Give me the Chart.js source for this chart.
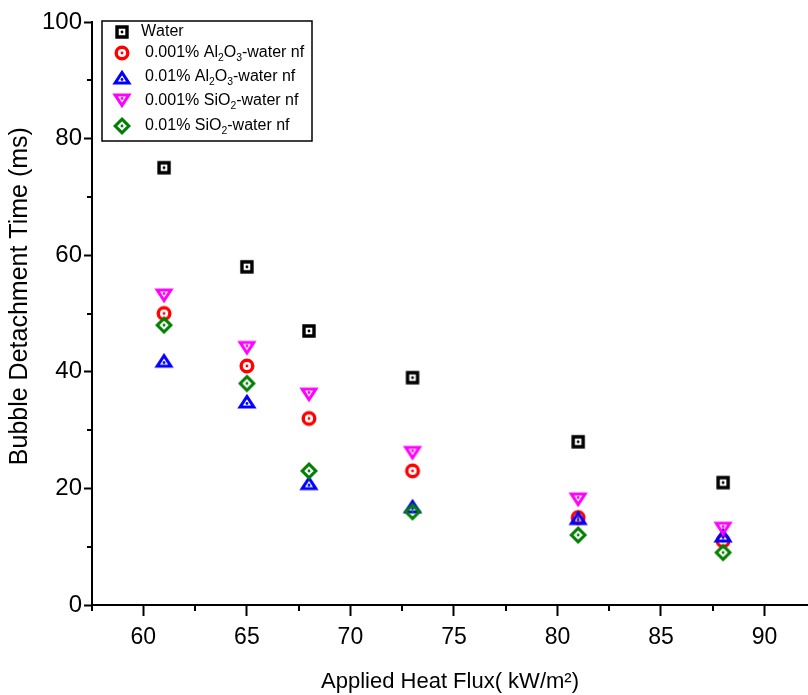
<!DOCTYPE html>
<html lang="en">
<head>
<meta charset="UTF-8">
<title>Bubble Detachment Time</title>
<script src="https://cdn.jsdelivr.net/npm/chart.js@4"></script>
<style>
    html, body { margin: 0; padding: 0; background: #fff; overflow: hidden; }
    canvas { display: block; }
</style>
</head>
<body>
<canvas id="chart" width="808" height="695"></canvas>
<script>
// values
const heatFlux = [61, 65, 68, 73, 81, 88];
const water    = [75, 58, 47, 39, 28, 21];
const al2o3Low = [50, 41, 32, 23, 15, 11];   // 0.001% Al2O3
const al2o3Hi  = [42, 35, 21, 17, 15, 12];   // 0.01% Al2O3
const sio2Low  = [53, 44, 36, 26, 18, 13];   // 0.001% SiO2
const sio2Hi   = [48, 38, 23, 16, 12, 9];    // 0.01% SiO2

const seriesNames = ['Water', '0.001% Al₂O₃-water nf', '0.01% Al₂O₃-water nf', '0.001% SiO₂-water nf', '0.01% SiO₂-water nf'];
const xTicks = [60, 65, 70, 75, 80, 85, 90];
const xMinorTicks = [57.5, 62.5, 67.5, 72.5, 77.5, 82.5, 87.5];
const yTicks = [0, 20, 40, 60, 80, 100];
const yMinorTicks = [10, 30, 50, 70, 90];

const FONT = "'Liberation Sans', Arial, sans-serif";

// hollow Origin-style symbols with a dot in the middle
function makeMarker(shape, color) {
    const c = document.createElement('canvas');
    c.width = 24; c.height = 24;
    const g = c.getContext('2d');
    const m = 12;
    g.strokeStyle = color; g.fillStyle = color;
    g.lineWidth = 3.4; g.lineJoin = 'miter';
    let dotY = m;
    g.beginPath();
    if (shape === 'square') {
        g.rect(m - 5, m - 5, 10, 10);
    } else if (shape === 'circle') {
        g.arc(m, m, 5.8, 0, Math.PI * 2);
    } else if (shape === 'up') {
        g.lineWidth = 3.1;
        g.moveTo(m, m - 4.5); g.lineTo(m + 6.8, m + 6); g.lineTo(m - 6.8, m + 6); g.closePath();
        dotY = m + 2.5;
    } else if (shape === 'down') {
        g.lineWidth = 3.1;
        g.moveTo(m, m + 4.5); g.lineTo(m + 6.8, m - 6); g.lineTo(m - 6.8, m - 6); g.closePath();
        dotY = m - 2.5;
    } else if (shape === 'diamond') {
        g.lineWidth = 3.1;
        g.moveTo(m, m - 6.8); g.lineTo(m + 6.8, m); g.lineTo(m, m + 6.8); g.lineTo(m - 6.8, m); g.closePath();
    }
    g.stroke();
    g.beginPath();
    g.arc(m, dotY, 1.4, 0, Math.PI * 2);
    g.fill();
    return c;
}

const markers = [
    makeMarker('square', '#000000'),
    makeMarker('circle', '#ff0000'),
    makeMarker('up', '#0000ff'),
    makeMarker('down', '#ff00ff'),
    makeMarker('diamond', '#008000')
];
const seriesData = [water, al2o3Low, al2o3Hi, sio2Low, sio2Hi];

const datasets = seriesData.map((vals, i) => ({
    label: seriesNames[i],
    data: vals.map((v, j) => ({ x: heatFlux[j], y: v })),
    pointStyle: markers[i],
    pointRadius: 9,
    showLine: false,
    order: seriesData.length - i
}));

// text with subscript digits drawn smaller and lower
const subMap = { '₂': '2', '₃': '3' };
function drawRichText(ctx, text, x, y, size) {
    let cx = x;
    for (const ch of text) {
        if (subMap[ch]) {
            ctx.font = (size * 0.65) + 'px ' + FONT;
            ctx.fillText(subMap[ch], cx, y + size * 0.3);
            cx += ctx.measureText(subMap[ch]).width;
        } else {
            ctx.font = size + 'px ' + FONT;
            ctx.fillText(ch, cx, y);
            cx += ctx.measureText(ch).width;
        }
    }
}

const legendBox = {
    id: 'legendBox',
    afterDraw(chart) {
        const ctx = chart.ctx;
        ctx.save();
        ctx.strokeStyle = '#000';
        ctx.lineWidth = 1.5;
        ctx.strokeRect(102, 21, 210, 120);
        const rows = [32, 53, 77, 101, 126];
        ctx.fillStyle = '#000';
        ctx.textBaseline = 'middle';
        ctx.textAlign = 'left';
        seriesNames.forEach((name, i) => {
            const img = markers[i];
            ctx.drawImage(img, 122 - img.width / 2, rows[i] - img.height / 2);
            drawRichText(ctx, name, i === 0 ? 141 : 145, rows[i], 16);
        });
        ctx.restore();
    }
};

const minorTicks = {
    id: 'minorTicks',
    afterDraw(chart) {
        const ctx = chart.ctx;
        const xs = chart.scales.x, ys = chart.scales.y;
        ctx.save();
        ctx.strokeStyle = '#000';
        ctx.lineWidth = 2;
        ctx.beginPath();
        yMinorTicks.forEach(v => {
            const py = Math.round(ys.getPixelForValue(v));
            ctx.moveTo(xs.left - 5, py); ctx.lineTo(xs.left, py);
        });
        xMinorTicks.forEach(v => {
            const px = Math.round(xs.getPixelForValue(v));
            ctx.moveTo(px, ys.bottom); ctx.lineTo(px, ys.bottom + 6);
        });
        ctx.stroke();
        ctx.restore();
    }
};

new Chart(document.getElementById('chart'), {
    type: 'scatter',
    data: { datasets: datasets },
    options: {
        responsive: false,
        animation: false,
        layout: { autoPadding: false, padding: { top: 22, right: 0, left: 0, bottom: 0 } },
        plugins: { legend: { display: false }, tooltip: { enabled: false } },
        scales: {
            x: {
                type: 'linear',
                min: 57.52,
                max: 92.1,
                afterBuildTicks: s => { s.ticks = xTicks.map(v => ({ value: v })); },
                afterFit: s => { s.height = 90; s.paddingLeft = 0; s.paddingRight = 0; },
                border: { display: true, color: '#000', width: 2 },
                grid: { drawOnChartArea: false, drawTicks: true, tickLength: 11, tickColor: '#000', tickWidth: 2 },
                ticks: { color: '#000', font: { family: FONT, size: 23 }, padding: 8, maxRotation: 0 },
                title: {
                    display: true,
                    text: 'Applied Heat Flux( kW/m²)',
                    color: '#000',
                    font: { family: FONT, size: 22 },
                    padding: { top: 0, bottom: 0 }
                }
            },
            y: {
                type: 'linear',
                min: 0,
                max: 100,
                afterBuildTicks: s => { s.ticks = yTicks.map(v => ({ value: v })); },
                afterFit: s => { s.width = 92; },
                border: { display: true, color: '#000', width: 2 },
                grid: { drawOnChartArea: false, drawTicks: true, tickLength: 8, tickColor: '#000', tickWidth: 2 },
                ticks: { color: '#000', font: { family: FONT, size: 24 }, padding: 2 },
                title: {
                    display: true,
                    text: '     Bubble Detachment Time (ms)',
                    color: '#000',
                    font: { family: FONT, size: 25 },
                    padding: { top: 5, bottom: 0 }
                }
            }
        }
    },
    plugins: [minorTicks, legendBox]
});
</script>
</body>
</html>
